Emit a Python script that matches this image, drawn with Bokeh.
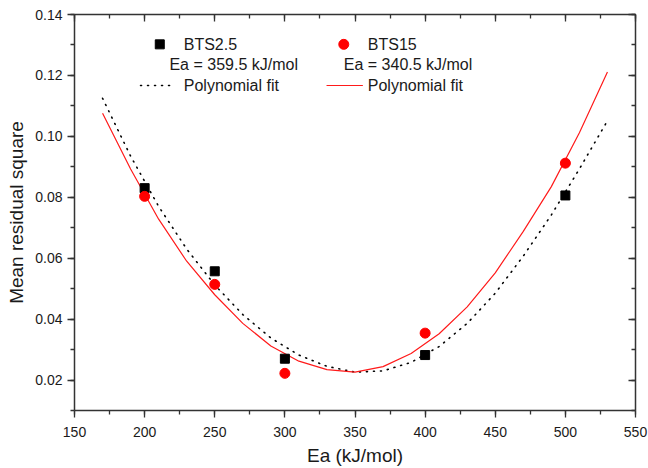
from bokeh.plotting import figure
from bokeh.models import (Range1d, LinearAxis, SingleIntervalTicker, NumeralTickFormatter,
                          Label, CustomJSTickFormatter)
from bokeh.embed import file_html
from bokeh.resources import INLINE

# ---- data ----
ea_points = [200, 250, 300, 400, 500]
bts25_mrs = [0.0830, 0.0557, 0.0270, 0.0282, 0.0806]
bts15_mrs = [0.0803, 0.0514, 0.0222, 0.0354, 0.0912]

fit_ea = [170, 190, 210, 230, 250, 270, 290, 310, 330, 350,
          370, 390, 410, 430, 450, 470, 490, 510, 530]
fit_bts25 = [0.1125, 0.0935, 0.0770, 0.0630, 0.0512, 0.0415, 0.0338, 0.0282, 0.0245, 0.0226,
             0.0230, 0.0258, 0.0310, 0.0386, 0.0485, 0.0607, 0.0742, 0.0893, 0.1051]
fit_bts15 = [0.1076, 0.0893, 0.0728, 0.0590, 0.0480, 0.0386, 0.0312, 0.0262, 0.0234, 0.0226,
             0.0244, 0.0287, 0.0352, 0.0440, 0.0552, 0.0688, 0.0835, 0.1012, 0.1211]

x_ticks_interval = 50
y_ticks_interval = 0.02
FONT = "Liberation Sans"
TXT = "#1a1a1a"
AX = "#333333"

p = figure(width=648, height=468, output_backend="svg", toolbar_location=None,
           x_range=Range1d(150, 550), y_range=Range1d(0.01, 0.14),
           min_border_left=74, min_border_right=13, min_border_top=14, min_border_bottom=58,
           x_axis_label="Ea (kJ/mol)", y_axis_label="Mean residual square")
p.grid.visible = False
p.outline_line_color = None
p.background_fill_color = "white"
p.border_fill_color = "white"

xt = SingleIntervalTicker(interval=x_ticks_interval, num_minor_ticks=2)
yt = SingleIntervalTicker(interval=y_ticks_interval, num_minor_ticks=2)

for ax in p.xaxis:
    ax.ticker = xt
for ax in p.yaxis:
    ax.ticker = yt
    ax.formatter = NumeralTickFormatter(format="0.00")

for ax in list(p.xaxis) + list(p.yaxis):
    ax.axis_line_color = AX
    ax.axis_line_width = 1.5
    ax.major_tick_line_color = AX
    ax.minor_tick_line_color = AX
    ax.major_tick_line_width = 1.3
    ax.minor_tick_line_width = 1.3
    ax.major_tick_out = 7
    ax.major_tick_in = 0
    ax.minor_tick_out = 4
    ax.minor_tick_in = 0
    ax.major_label_text_font = FONT
    ax.major_label_text_font_size = "14px"
    ax.major_label_text_color = TXT
    ax.axis_label_text_font = FONT
    ax.axis_label_text_font_size = "19px"
    ax.axis_label_text_font_style = "normal"
    ax.axis_label_text_color = TXT

p.xaxis.major_label_standoff = 9
p.xaxis.axis_label_standoff = 5
p.yaxis.major_label_standoff = 5
p.yaxis.axis_label_standoff = 5

# top and right axes: inward ticks, no labels
blank = CustomJSTickFormatter(code="return ''")
top = LinearAxis(ticker=xt, formatter=blank, major_label_text_font_size="1px", major_label_standoff=0)
right = LinearAxis(ticker=yt, formatter=blank, major_label_text_font_size="1px", major_label_standoff=0)
for ax in (top, right):
    ax.axis_line_color = AX
    ax.axis_line_width = 1.5
    ax.major_tick_line_color = AX
    ax.minor_tick_line_color = AX
    ax.major_tick_line_width = 1.3
    ax.minor_tick_line_width = 1.3
    ax.major_tick_in = 7
    ax.major_tick_out = 0
    ax.minor_tick_in = 4
    ax.minor_tick_out = 0
p.add_layout(top, "above")
p.add_layout(right, "right")

# ---- fits ----
p.line(fit_ea, fit_bts25, line_color="black", line_width=1.6, line_dash="1 6", line_cap="round")
p.line(fit_ea, fit_bts15, line_color="#ff1a1a", line_width=1.2)

# ---- points ----
p.scatter(ea_points, bts25_mrs, marker="square", size=9, fill_color="black", line_color="black")
p.scatter(ea_points, bts15_mrs, marker="circle", size=10, fill_color="#ff0000", line_color="#ff0000")

# ---- legend (annotation positions in data space) ----
LEG_FS = "16px"
leg_row_y = [0.1302, 0.1235, 0.1167]
col1_x = dict(marker=210.8, text=227.9, ea=217.7, seg=(197.1, 220.8))
col2_x = dict(marker=342.0, text=359.1, ea=342.0, seg=(329.7, 355.6))

p.scatter([col1_x["marker"]], [leg_row_y[0]], marker="square", size=9, fill_color="black", line_color="black")
p.scatter([col2_x["marker"]], [leg_row_y[0]], marker="circle", size=10, fill_color="#ff0000", line_color="#ff0000")
p.line(list(col1_x["seg"]), [leg_row_y[2]] * 2, line_color="black", line_width=1.6, line_dash="1 6", line_cap="round")
p.line(list(col2_x["seg"]), [leg_row_y[2]] * 2, line_color="#ff1a1a", line_width=1.2)

legend_texts = [
    (col1_x["text"], leg_row_y[0], "BTS2.5"),
    (col1_x["ea"], leg_row_y[1], "Ea = 359.5 kJ/mol"),
    (col1_x["text"], leg_row_y[2], "Polynomial fit"),
    (col2_x["text"], leg_row_y[0], "BTS15"),
    (col2_x["ea"], leg_row_y[1], "Ea = 340.5 kJ/mol"),
    (col2_x["text"], leg_row_y[2], "Polynomial fit"),
]
for lx, ly, t in legend_texts:
    p.add_layout(Label(x=lx, y=ly, text=t, text_font=FONT, text_font_size=LEG_FS,
                       text_color=TXT, text_baseline="middle", text_align="left"))

open("out.html", "w").write(file_html(p, INLINE))
